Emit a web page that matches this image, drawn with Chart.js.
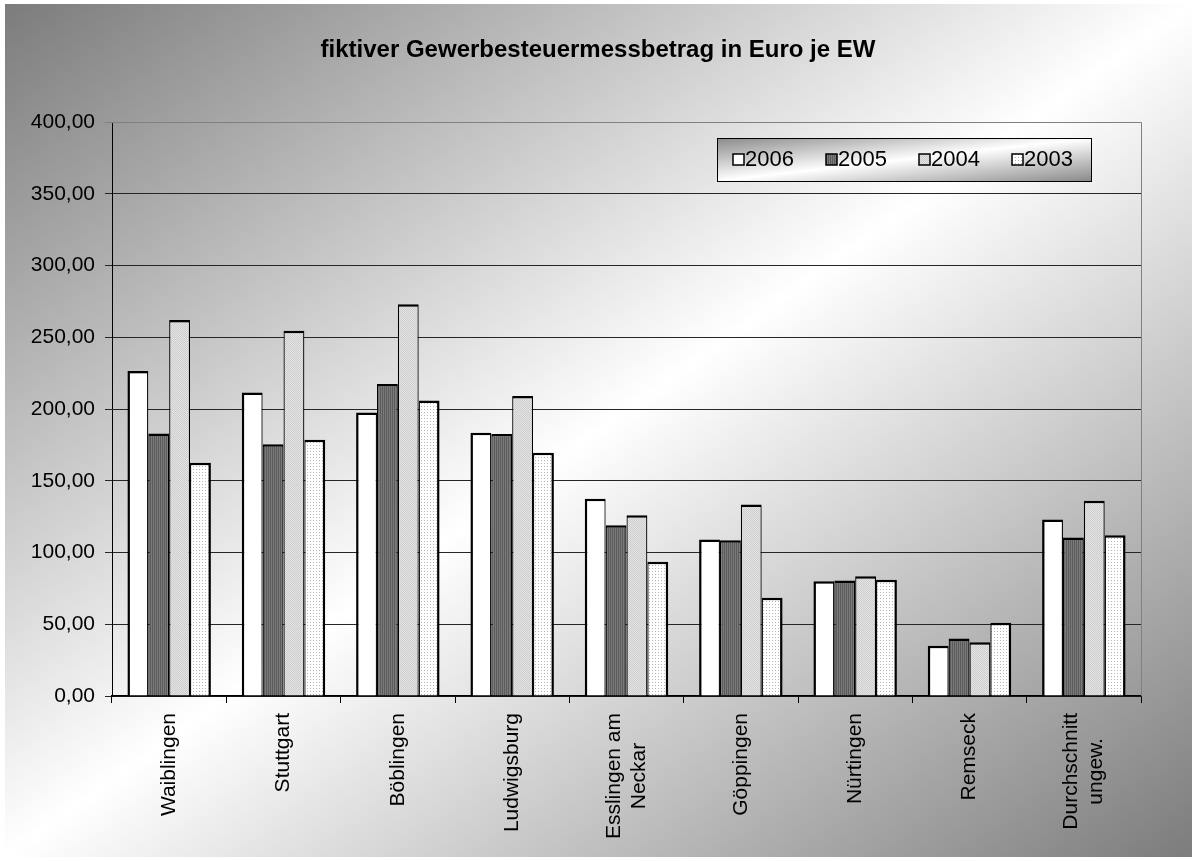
<!DOCTYPE html>
<html>
<head>
<meta charset="utf-8">
<title>Gewerbesteuermessbetrag</title>
<script src="https://cdn.jsdelivr.net/npm/chart.js@4.4.0/dist/chart.umd.min.js"></script>
<style>
  html, body { margin: 0; padding: 0; background: #fff; }
  canvas { display: block; }
</style>
</head>
<body>
<canvas id="myChart" width="1197" height="861"></canvas>
<script>

const categories = [
    ['Waiblingen'], ['Stuttgart'], ['Böblingen'], ['Ludwigsburg'],
    ['Esslingen am', 'Neckar'], ['Göppingen'], ['Nürtingen'], ['Remseck'],
    ['Durchschnitt', 'ungew.']
];
const years = ['2006', '2005', '2004', '2003'];

const values2006 = [226.5, 211.5, 197.5, 183.5, 137.5, 109.0, 80.0, 35.0, 123.0];
const values2005 = [183.0, 175.5, 217.5, 182.5, 119.0, 108.5, 80.5, 40.0, 110.5];
const values2004 = [262.0, 254.5, 273.0, 209.0, 126.0, 133.5, 83.5, 37.5, 136.0];
const values2003 = [162.5, 178.5, 206.0, 169.5, 93.5, 68.5, 81.0, 51.0, 112.0];

const yTicks = [0, 50, 100, 150, 200, 250, 300, 350, 400];

const FONT = "'Liberation Sans', Arial, sans-serif";

// small tiled fills for the bars
function makePattern(w, h, draw) {
    const c = document.createElement('canvas');
    c.width = w;
    c.height = h;
    const g = c.getContext('2d');
    draw(g);
    return g.createPattern(c, 'repeat');
}

const fillWhite = '#ffffff';
const fillStripes = makePattern(2, 2, g => {
    g.fillStyle = '#5c5c5c'; g.fillRect(0, 0, 1, 2);
    g.fillStyle = '#7a7a7a'; g.fillRect(1, 0, 1, 2);
});
const fillGrey = makePattern(2, 2, g => {
    g.fillStyle = '#e4e4e4'; g.fillRect(0, 0, 2, 2);
    g.fillStyle = '#cdcdcd'; g.fillRect(0, 0, 1, 1); g.fillRect(1, 1, 1, 1);
});
const fillDots = makePattern(3, 3, g => {
    g.fillStyle = '#ffffff'; g.fillRect(0, 0, 3, 3);
    g.fillStyle = '#b4b4b4'; g.fillRect(1, 1, 1, 1);
});

// diagonal grey-white-grey wash, stretched over a rectangle
function diagonalWash(ctx, x, y, w, h, edge) {
    ctx.save();
    ctx.translate(x, y);
    ctx.scale(w, h);
    const grad = ctx.createLinearGradient(0, 0, 1, 1);
    grad.addColorStop(0, edge);
    grad.addColorStop(0.5, '#ffffff');
    grad.addColorStop(1, edge);
    ctx.fillStyle = grad;
    ctx.fillRect(0, 0, 1, 1);
    ctx.restore();
}

const backdrop = {
    id: 'backdrop',
    beforeDraw(chart) {
        const ctx = chart.ctx;
        ctx.save();
        ctx.fillStyle = '#ffffff';
        ctx.fillRect(0, 0, chart.width, chart.height);
        diagonalWash(ctx, 5, 4, 1187, 853, '#7c7c7c');

        ctx.fillStyle = '#000';
        ctx.font = 'bold 24px ' + FONT;
        ctx.textAlign = 'center';
        ctx.textBaseline = 'middle';
        ctx.fillText('fiktiver Gewerbesteuermessbetrag in Euro je EW', 598, 50);
        ctx.restore();
    },
    beforeDatasetsDraw(chart) {
        // grey frame on the top and right of the plot
        const a = chart.chartArea;
        const ctx = chart.ctx;
        ctx.save();
        ctx.strokeStyle = '#808080';
        ctx.lineWidth = 1;
        ctx.beginPath();
        ctx.moveTo(a.left, Math.round(a.top) + 0.5);
        ctx.lineTo(Math.round(a.right) + 0.5, Math.round(a.top) + 0.5);
        ctx.lineTo(Math.round(a.right) + 0.5, a.bottom);
        ctx.stroke();
        ctx.restore();
    }
};

const labelsAndLegend = {
    id: 'labelsAndLegend',
    afterDraw(chart) {
        const ctx = chart.ctx;
        const x = chart.scales.x;
        ctx.save();

        // category names, turned upright and centred line by line
        ctx.fillStyle = '#000';
        ctx.font = '21px ' + FONT;
        ctx.textAlign = 'center';
        ctx.textBaseline = 'middle';
        const lineH = 25;
        chart.data.labels.forEach((lines, i) => {
            const px = x.getPixelForValue(i);
            const maxW = Math.max(...lines.map(l => ctx.measureText(l).width));
            ctx.save();
            ctx.translate(px, x.top + 17);
            ctx.rotate(-Math.PI / 2);
            lines.forEach((l, j) => {
                ctx.fillText(l, -maxW / 2, (j - (lines.length - 1) / 2) * lineH);
            });
            ctx.restore();
        });

        // legend box
        const bx = 717, by = 138, bw = 374, bh = 43;
        diagonalWash(ctx, bx, by, bw, bh, '#8a8a8a');
        ctx.strokeStyle = '#000';
        ctx.lineWidth = 1;
        ctx.strokeRect(bx + 0.5, by + 0.5, bw, bh);

        ctx.font = '22px ' + FONT;
        ctx.textAlign = 'left';
        chart.data.datasets.forEach((ds, i) => {
            const sx = 733 + i * 93;
            const sy = 154;
            ctx.fillStyle = ds.backgroundColor;
            ctx.fillRect(sx, sy, 11, 11);
            ctx.strokeStyle = '#000';
            ctx.lineWidth = 1.5;
            ctx.strokeRect(sx, sy, 11, 11);
            ctx.fillStyle = '#000';
            ctx.fillText(ds.label, sx + 12, sy + 6);
        });
        ctx.restore();
    }
};

function edgeBorder(i) {
    return {
        top: 2.5,
        left: i === 0 ? 2.5 : 1.25,
        right: i === years.length - 1 ? 2.5 : 1.25,
        bottom: 0
    };
}

const seriesValues = [values2006, values2005, values2004, values2003];
const seriesFills = [fillWhite, fillStripes, fillGrey, fillDots];

const data = {
    labels: categories,
    datasets: years.map((y, i) => ({
        label: y,
        data: seriesValues[i],
        backgroundColor: seriesFills[i],
        borderColor: '#000',
        borderWidth: edgeBorder(i),
        borderSkipped: false,
        inflateAmount: 0,
        categoryPercentage: 0.73,
        barPercentage: 1
    }))
};

const config = {
    type: 'bar',
    data: data,
    options: {
        responsive: false,
        animation: false,
        devicePixelRatio: 1,
        layout: {
            padding: { left: 0, top: 122, right: 56, bottom: 0 }
        },
        plugins: {
            legend: { display: false },
            title: { display: false },
            tooltip: { enabled: false }
        },
        scales: {
            x: {
                afterFit: s => { s.height = 165; },
                ticks: { display: false },
                grid: {
                    offset: true,
                    drawOnChartArea: false,
                    drawTicks: true,
                    tickLength: 7,
                    color: '#000',
                    lineWidth: 1
                },
                border: { display: true, color: '#000', width: 1.5 }
            },
            y: {
                min: 0,
                max: 400,
                afterFit: s => { s.width = 112; },
                afterBuildTicks: s => { s.ticks = yTicks.map(v => ({ value: v })); },
                ticks: {
                    padding: 10,
                    color: '#000',
                    font: { family: FONT, size: 21 },
                    callback: v => v.toFixed(2).replace('.', ',')
                },
                grid: {
                    tickLength: 7,
                    color: c => (c.tick && c.tick.value === 400) ? '#808080' : '#262626',
                    lineWidth: 1
                },
                border: { display: true, color: '#000', width: 1 }
            }
        }
    },
    plugins: [backdrop, labelsAndLegend]
};

const myChart = new Chart(
    document.getElementById('myChart'),
    config
);
</script>
</body>
</html>
